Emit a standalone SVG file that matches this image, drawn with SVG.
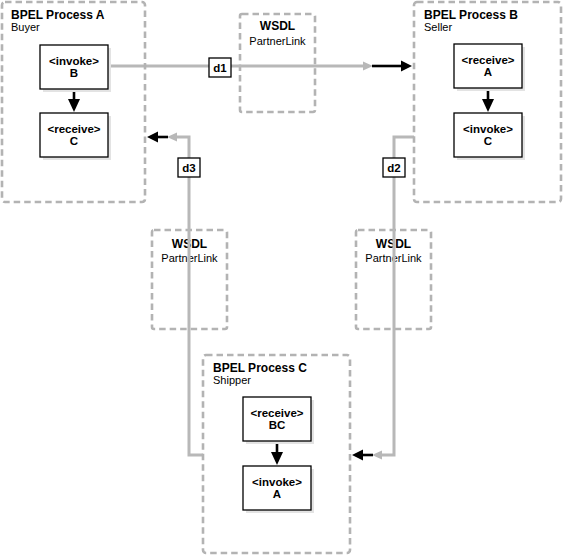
<svg xmlns="http://www.w3.org/2000/svg" width="563" height="557" viewBox="0 0 563 557">
<style>
  .proc{fill:none;stroke:#b3b3b3;stroke-width:2.6;stroke-dasharray:6.5 4}
  .act{fill:#fff;stroke:#000;stroke-width:1.3}
  .shadow{fill:#e3e3e3}
  .lbl{fill:#fff;stroke:#000;stroke-width:1.3}
  .t{font-family:"Liberation Sans",Arial,sans-serif;fill:#000}
  .title{font-size:12px;font-weight:bold}
  .sub{font-size:11px}
  .at{font-size:11.5px;font-weight:bold;text-anchor:middle}
  .wt{text-anchor:middle}
  .gl{fill:none;stroke:#b8b8b8;stroke-width:3}
  .bl{fill:none;stroke:#000;stroke-width:2.6}
  .gh{fill:#b8b8b8}
  .bh{fill:#000}
</style>
<rect width="563" height="557" fill="#fff"/>

<g id="wsdl1">
  <rect class="proc" x="240" y="14" width="75" height="98" rx="2"/>
  <text class="t title wt" x="277.5" y="30">WSDL</text>
  <text class="t sub wt" x="277.5" y="45">PartnerLink</text>
</g>
<g id="wsdl2">
  <rect class="proc" x="152" y="230" width="75" height="99" rx="2"/>
  <text class="t title wt" x="189.5" y="248">WSDL</text>
  <text class="t sub wt" x="189.5" y="262">PartnerLink</text>
</g>
<g id="wsdl3">
  <rect class="proc" x="356" y="230" width="75" height="99" rx="2"/>
  <text class="t title wt" x="393.5" y="248">WSDL</text>
  <text class="t sub wt" x="393.5" y="262">PartnerLink</text>
</g>

<g id="connectors">
  <!-- d1 -->
  <path class="gl" d="M108,66 H364"/>
  <polygon class="gh" points="363,61.5 373,66 363,70.5"/>
  <path class="bl" d="M372,66 H403"/>
  <polygon class="bh" points="401,60.5 412,66 401,71.5"/>
  <!-- d3 -->
  <path class="gl" d="M203,455 H189 V137 H176"/>
  <polygon class="gh" points="177,132.5 167,137 177,141.5"/>
  <path class="bl" d="M168,137 H156"/>
  <polygon class="bh" points="158,131.5 147,137 158,142.5"/>
  <!-- d2 -->
  <path class="gl" d="M414,137 H394 V455 H381"/>
  <polygon class="gh" points="382,450.5 372,455 382,459.5"/>
  <path class="bl" d="M373,455 H361"/>
  <polygon class="bh" points="363,449.5 352,455 363,460.5"/>
  <!-- internal -->
  <path class="bl" d="M74,89 V100"/>
  <polygon class="bh" points="68,99 74,112 80,99"/>
  <path class="bl" d="M488,88 V100"/>
  <polygon class="bh" points="482,99 488,112 494,99"/>
  <path class="bl" d="M277,441 V453"/>
  <polygon class="bh" points="271,452 277,465 283,452"/>
</g>

<g id="d1">
  <rect class="lbl" x="209" y="58" width="22" height="19"/>
  <text class="t at" x="220" y="72">d1</text>
</g>
<g id="d3">
  <rect class="lbl" x="178" y="158" width="22" height="19"/>
  <text class="t at" x="189" y="172">d3</text>
</g>
<g id="d2">
  <rect class="lbl" x="383" y="158" width="22" height="19"/>
  <text class="t at" x="394" y="172">d2</text>
</g>

<g id="processA">
  <rect class="proc" x="2" y="2" width="143" height="200" rx="3"/>
  <text class="t title" x="11" y="19">BPEL Process A</text>
  <text class="t sub" x="11" y="31">Buyer</text>
</g>
<g id="invokeB">
  <rect class="shadow" x="43" y="48" width="68" height="44"/>
  <rect class="act" x="40" y="45" width="68" height="44"/>
  <text class="t at" x="74" y="65">&lt;invoke&gt;</text>
  <text class="t at" x="74" y="77">B</text>
</g>
<g id="receiveC">
  <rect class="shadow" x="43" y="116" width="68" height="44"/>
  <rect class="act" x="40" y="113" width="68" height="44"/>
  <text class="t at" x="74" y="133">&lt;receive&gt;</text>
  <text class="t at" x="74" y="145">C</text>
</g>

<g id="processB">
  <rect class="proc" x="414" y="2" width="147" height="200" rx="3"/>
  <text class="t title" x="424" y="19">BPEL Process B</text>
  <text class="t sub" x="424" y="31">Seller</text>
</g>
<g id="receiveA">
  <rect class="shadow" x="457" y="47" width="68" height="44"/>
  <rect class="act" x="454" y="44" width="68" height="44"/>
  <text class="t at" x="488" y="64">&lt;receive&gt;</text>
  <text class="t at" x="488" y="76">A</text>
</g>
<g id="invokeC">
  <rect class="shadow" x="457" y="116" width="68" height="44"/>
  <rect class="act" x="454" y="113" width="68" height="44"/>
  <text class="t at" x="488" y="133">&lt;invoke&gt;</text>
  <text class="t at" x="488" y="145">C</text>
</g>

<g id="processC">
  <rect class="proc" x="203" y="355" width="147" height="198" rx="3"/>
  <text class="t title" x="213" y="372">BPEL Process C</text>
  <text class="t sub" x="213" y="384">Shipper</text>
</g>
<g id="receiveBC">
  <rect class="shadow" x="246" y="400" width="68" height="44"/>
  <rect class="act" x="243" y="397" width="68" height="44"/>
  <text class="t at" x="277" y="417">&lt;receive&gt;</text>
  <text class="t at" x="277" y="429">BC</text>
</g>
<g id="invokeA">
  <rect class="shadow" x="246" y="469" width="68" height="44"/>
  <rect class="act" x="243" y="466" width="68" height="44"/>
  <text class="t at" x="277" y="486">&lt;invoke&gt;</text>
  <text class="t at" x="277" y="498">A</text>
</g>
</svg>
